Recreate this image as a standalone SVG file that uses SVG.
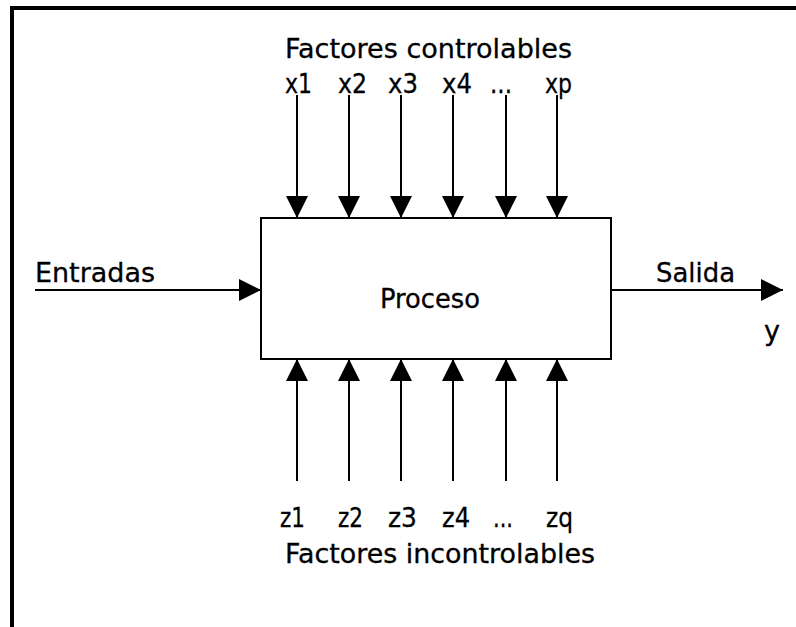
<svg xmlns="http://www.w3.org/2000/svg" width="796" height="627" viewBox="0 0 796 627">
  <style>
    .lbl { font-family: "DejaVu Sans", "Noto Sans", sans-serif; font-size: 26px; fill: #000; stroke: #000; stroke-width: 0.3; }
    .wire { stroke: #000; stroke-width: 2; fill: none; }
    .frame { stroke: #000; stroke-width: 4; fill: none; }
    .box { stroke: #000; stroke-width: 2; fill: #fff; }
  </style>
  <defs>
    <marker id="head" viewBox="0 0 22 22" refX="22" refY="11" markerWidth="22" markerHeight="22" markerUnits="userSpaceOnUse" orient="auto">
      <path d="M0,0 L22,11 L0,22 Z" fill="#000"/>
    </marker>
  </defs>

  <rect width="796" height="627" fill="#fff"/>

  <!-- outer frame: top and left edges -->
  <path class="frame" d="M12,627 V8 H796"/>

  <!-- process block -->
  <g id="proceso">
    <rect class="box" x="261" y="218" width="350" height="141"/>
    <text class="lbl" x="380" y="308" textLength="100" lengthAdjust="spacingAndGlyphs">Proceso</text>
  </g>

  <!-- controllable factors -->
  <g id="controlables">
    <text class="lbl" x="285" y="58" textLength="287" lengthAdjust="spacingAndGlyphs">Factores controlables</text>
    <text class="lbl" x="285" y="93" textLength="27" lengthAdjust="spacingAndGlyphs">x1</text>
    <text class="lbl" x="338" y="93" textLength="29" lengthAdjust="spacingAndGlyphs">x2</text>
    <text class="lbl" x="388" y="93" textLength="30" lengthAdjust="spacingAndGlyphs">x3</text>
    <text class="lbl" x="442" y="93" textLength="30" lengthAdjust="spacingAndGlyphs">x4</text>
    <text class="lbl" x="490" y="93" textLength="22" lengthAdjust="spacingAndGlyphs">...</text>
    <text class="lbl" x="545" y="93" textLength="27" lengthAdjust="spacingAndGlyphs">xp</text>
  </g>

  <!-- uncontrollable factors -->
  <g id="incontrolables">
    <text class="lbl" x="280" y="527" textLength="25" lengthAdjust="spacingAndGlyphs">z1</text>
    <text class="lbl" x="338" y="527" textLength="25" lengthAdjust="spacingAndGlyphs">z2</text>
    <text class="lbl" x="388" y="527" textLength="29" lengthAdjust="spacingAndGlyphs">z3</text>
    <text class="lbl" x="442" y="527" textLength="28" lengthAdjust="spacingAndGlyphs">z4</text>
    <text class="lbl" x="493" y="527" textLength="20" lengthAdjust="spacingAndGlyphs">...</text>
    <text class="lbl" x="546" y="527" textLength="27" lengthAdjust="spacingAndGlyphs">zq</text>
    <text class="lbl" x="285" y="563" textLength="310" lengthAdjust="spacingAndGlyphs">Factores incontrolables</text>
  </g>

  <!-- input and output labels -->
  <g id="entradas">
    <text class="lbl" x="35" y="282" font-size="28" textLength="120" lengthAdjust="spacingAndGlyphs">Entradas</text>
  </g>
  <g id="salida">
    <text class="lbl" x="656" y="282" textLength="79" lengthAdjust="spacingAndGlyphs">Salida</text>
    <text class="lbl" x="764" y="340" textLength="16" lengthAdjust="spacingAndGlyphs">y</text>
  </g>

  <!-- connectors -->
  <g id="connectors" class="wire" marker-end="url(#head)">
    <line x1="35" y1="290" x2="261" y2="290"/>
    <line x1="611" y1="290" x2="783" y2="290"/>

    <line x1="297" y1="95" x2="297" y2="218"/>
    <line x1="349" y1="95" x2="349" y2="218"/>
    <line x1="401" y1="95" x2="401" y2="218"/>
    <line x1="453" y1="95" x2="453" y2="218"/>
    <line x1="506" y1="95" x2="506" y2="218"/>
    <line x1="557" y1="95" x2="557" y2="218"/>

    <line x1="297" y1="481" x2="297" y2="359"/>
    <line x1="349" y1="481" x2="349" y2="359"/>
    <line x1="401" y1="481" x2="401" y2="359"/>
    <line x1="453" y1="481" x2="453" y2="359"/>
    <line x1="506" y1="481" x2="506" y2="359"/>
    <line x1="557" y1="481" x2="557" y2="359"/>
  </g>
</svg>
